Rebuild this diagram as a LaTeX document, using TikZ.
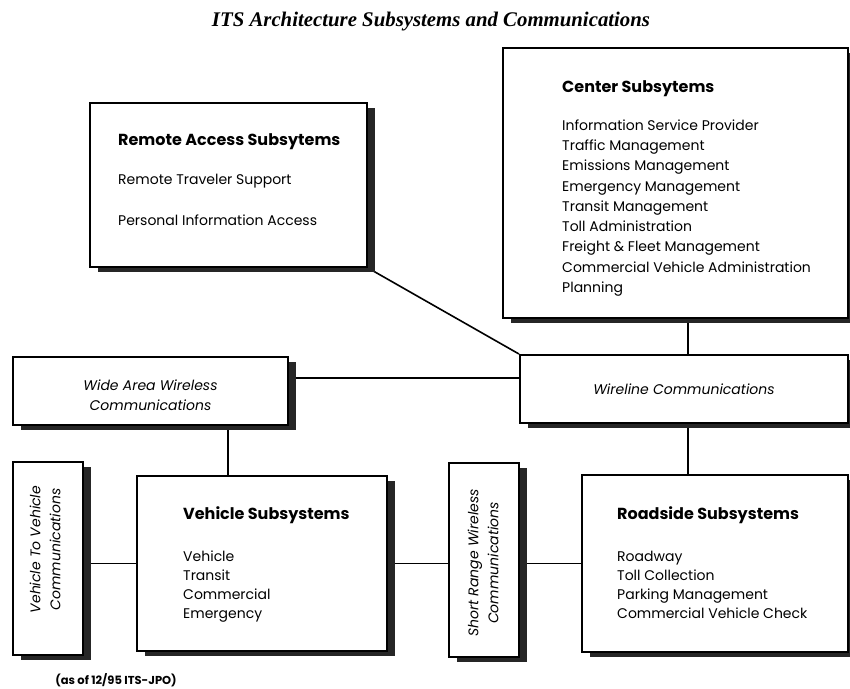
\documentclass[tikz,border=0pt]{standalone}
\usepackage{fontspec}
\setmainfont{Poppins}
\newfontfamily\headfont{Liberation Serif}
\usetikzlibrary{shadows,positioning,calc,backgrounds}
\newcommand{\syshead}[1]{{\fontsize{16}{20}\selectfont\bfseries #1}}

\begin{document}
\begin{tikzpicture}
[x=1pt,y=-1pt,
sysbox/.style={draw=black,line width=2pt,fill=white,inner sep=0pt,
  drop shadow={shadow xshift=8pt,shadow yshift=-5pt,fill=black!85,opacity=1}},
listtext/.style={anchor=north west,align=left,inner sep=0pt,
  font=\fontsize{14}{20.25}\selectfont},
commtext/.style={align=center,inner sep=0pt,
  font=\fontsize{14}{20}\selectfont\itshape},
link/.style={line width=1.6pt}]
\useasboundingbox (0,0) rectangle (850,688);
%%
% title
%%
\node[font=\headfont\bfseries\itshape\fontsize{20.8}{24}\selectfont] (title) at (431,22)
{ITS Architecture Subsystems and Communications};
%%
% subsystems
%%
\node[sysbox,minimum width=277pt,minimum height=164pt] (rem) at (228.5,185) {};
\node[listtext] (remtxt) at (118,133) {\syshead{Remote Access Subsytems}\\[19pt]
Remote Traveler Support\\[21pt]
Personal Information Access};
\node[sysbox,minimum width=345pt,minimum height=270pt] (ctr) at (675.5,183) {};
\node[listtext] (ctrtxt) at (562,80) {\syshead{Center Subsytems}\\[18pt]
Information Service Provider\\
Traffic Management\\
Emissions Management\\
Emergency Management\\
Transit Management\\
Toll Administration\\
Freight \& Fleet Management\\
Commercial Vehicle Administration\\
Planning};
\node[sysbox,minimum width=250pt,minimum height=175pt] (veh) at (262,563.5) {};
\node[listtext,font=\fontsize{14}{19}\selectfont] (vehtxt) at (183,506) {\syshead{Vehicle Subsystems}\\[23pt]
Vehicle\\
Transit\\
Commercial\\
Emergency};
\node[sysbox,minimum width=266pt,minimum height=177pt] (road) at (715,563.5) {};
\node[listtext,font=\fontsize{14}{19}\selectfont] (roadtxt) at (617,506) {\syshead{Roadside Subsystems}\\[23pt]
Roadway\\
Toll Collection\\
Parking Management\\
Commercial Vehicle Check};
%%
% communications
%%
\node[sysbox,minimum width=275pt,minimum height=68pt] (wide) at (150.5,391) {};
\node[commtext] (widetxt) at ([yshift=-4pt]wide.center) {Wide Area Wireless\\Communications};
\node[sysbox,minimum width=328pt,minimum height=68pt] (wire) at (684,389) {};
\node[commtext] (wiretxt) at (wire) {Wireline Communications};
\node[sysbox,minimum width=70pt,minimum height=193pt] (v2v) at (48,558.5) {};
\node[commtext,rotate=90] (v2vtxt) at ([shift={(-3,-9)}]v2v.center) {Vehicle To Vehicle\\Communications};
\node[sysbox,minimum width=70pt,minimum height=194pt] (srw) at (484,560) {};
\node[commtext,rotate=90] (srwtxt) at ([shift={(-1,3)}]srw.center) {Short Range Wireless\\Communications};
%%
\node[font=\fontsize{11.5}{13}\selectfont\bfseries] (note) at (116,680) {(as of 12/95 ITS-JPO)};
%%
% links
%%
\coordinate (trunk) at ([xshift=4pt]wire.north);
\coordinate (trunkb) at ([xshift=4pt]wire.south);
\coordinate (wideb) at ([xshift=-34pt]veh.north);
\coordinate (widee) at ([yshift=13pt]wide.east);
\begin{pgfonlayer}{background}
\path
(rem.south east) edge[link] (wire.north west)
(trunk) edge[link] (trunk |- ctr.south)
(widee) edge[link] (widee -| wire.west)
(wideb) edge[link] (wideb |- wide.south)
(trunkb) edge[link] (trunkb |- road.north)
(v2v.east |- veh.west) edge[link] (veh.west)
(veh.east) edge[link] (veh.east -| srw.west)
(srw.east |- road.west) edge[link] (road.west);
\end{pgfonlayer}
\end{tikzpicture}
\end{document}
